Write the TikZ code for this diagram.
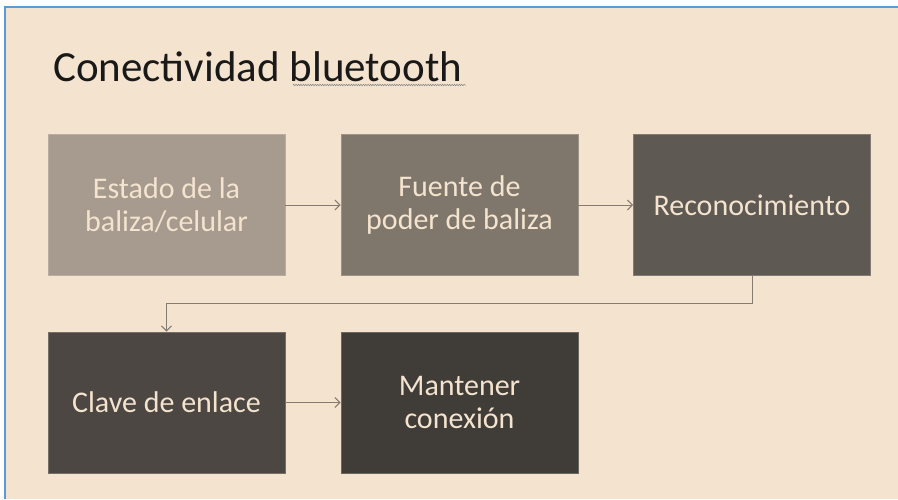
\documentclass[tikz,border=0pt]{standalone}
\usepackage{fontspec}
\setmainfont{Carlito}
\usetikzlibrary{arrows.meta,decorations.pathmorphing}
\definecolor{peach}{HTML}{F4E3CF}
\definecolor{frame}{HTML}{5B9BD5}
\definecolor{cA}{HTML}{A69B8E}
\definecolor{cB}{HTML}{80776C}
\definecolor{cC}{HTML}{5F5953}
\definecolor{cD}{HTML}{4C4742}
\definecolor{cE}{HTML}{403D38}
\definecolor{arr}{HTML}{857B70}
\tikzset{
  stepbox/.style={draw=#1!75!peach, line width=0.8pt, fill=#1, minimum width=237pt, minimum height=141pt,
    inner sep=0pt, text=peach, align=center, font=\fontsize{30}{33}\selectfont},
  flow/.style={draw=arr, line width=1pt, -{Straight Barb[length=5pt,width=10pt]}}
}
\begin{document}
\begin{tikzpicture}[x=1pt,y=-1pt]
\useasboundingbox (0,0) rectangle (898,499);
\fill[white] (0,0) rectangle (898,499);
\fill[peach] (5,7) rectangle (898,499);
\draw[frame, line width=1.2pt] (5,499) -- (5,7) -- (898,7);
\node[anchor=base west, inner sep=0pt, font=\fontsize{43}{50}\selectfont, text=black!90] (title) at (53,81) {Conectividad bluetooth};
\coordinate (sqA) at (293,85);
\coordinate (sqB) at (466,85);
\draw[gray, line width=0.5pt, decorate, decoration={snake, amplitude=0.7pt, segment length=2.4pt}] (sqA) -- (sqB);
\node[stepbox=cA] (b1) at (166.5,205) {Estado de la\\baliza/celular};
\node[stepbox=cB] (b2) at (459.5,205) {Fuente de\\poder de baliza};
\node[stepbox=cC] (b3) at (752,205) {Reconocimiento};
\node[stepbox=cD] (b4) at (166.5,402.5) {Clave de enlace};
\node[stepbox=cE] (b5) at (459.5,402.5) {Mantener\\conexión};
\draw[flow] (b1) -- (b2);
\draw[flow] (b2) -- (b3);
\draw[flow] (b3.south) -- ++(0,27.5) -| (b4.north);
\draw[flow] (b4) -- (b5);
\end{tikzpicture}
\end{document}
